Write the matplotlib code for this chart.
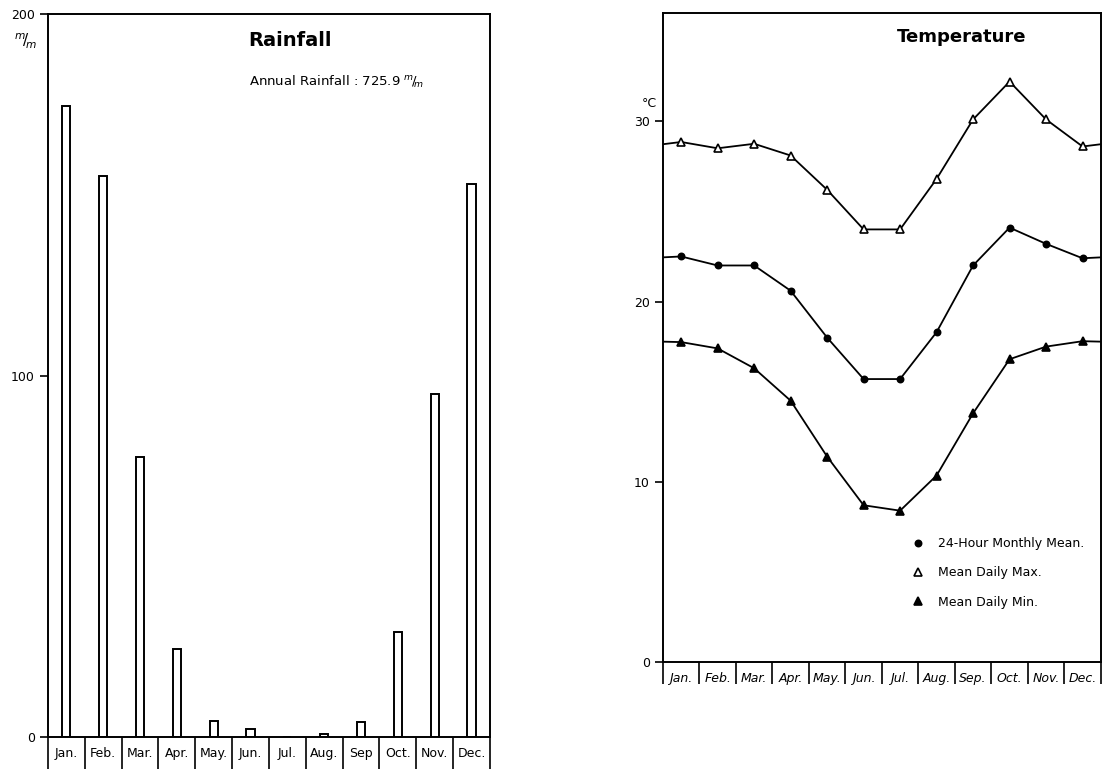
import numpy as np
import matplotlib.pyplot as plt

months = ["Jan.", "Feb.", "Mar.", "Apr.", "May.", "Jun.", "Jul.", "Aug.", "Sep", "Oct.", "Nov.", "Dec."]
months_t = ["Jan.", "Feb.", "Mar.", "Apr.", "May.", "Jun.", "Jul.", "Aug.", "Sep.", "Oct.", "Nov.", "Dec."]

# rainfall (mm)
rain = [174.6, 155.2, 77.5, 24.3, 4.4, 2.2, 0.0, 0.8, 4.1, 29.0, 94.9, 153.0]

# temperature (C)
t_mean = [22.5, 22.0, 22.0, 20.6, 18.0, 15.7, 15.7, 18.3, 22.0, 24.1, 23.2, 22.4]
t_max = [28.85, 28.5, 28.75, 28.1, 26.2, 24.0, 24.0, 26.8, 30.1, 32.2, 30.1, 28.6]
t_min = [17.75, 17.4, 16.3, 14.5, 11.4, 8.7, 8.4, 10.35, 13.8, 16.8, 17.5, 17.8]

plt.rcParams['font.family'] = ['DejaVu Sans']

fig = plt.figure(figsize=(11.03, 7.69), dpi=100)
x = np.arange(12)

def month_axis(ax, labels, ticklen, pad, style='normal'):
    ax.set_xlim(-0.5, 11.5)
    ax.set_xticks(np.arange(13) - 0.5)
    ax.set_xticklabels([])
    ax.set_xticks(x, minor=True)
    ax.set_xticklabels(labels, minor=True, fontsize=9, style=style)
    ax.tick_params(axis='x', which='major', direction='out', length=ticklen, width=1.2)
    ax.tick_params(axis='x', which='minor', length=0, pad=pad)
    for s in ax.spines.values():
        s.set_linewidth(1.4)

# ---- rainfall
ax1 = fig.add_axes([0.0435, 0.0416, 0.4007, 0.9402])
ax1.bar(x, rain, width=0.22, facecolor='white', edgecolor='black', linewidth=1.4)
ax1.set_ylim(0, 200)
ax1.set_yticks([0, 100, 200])
ax1.set_yticklabels(['0', '100', '200'], fontsize=9)
ax1.tick_params(axis='y', direction='out', length=6, width=1.2)
month_axis(ax1, months, 23, 7)
ax1.text(-0.05, 0.955, r'$^{m}\!/\!_{m}$', transform=ax1.transAxes, fontsize=11, ha='center')
ax1.text(0.548, 0.964, 'Rainfall', transform=ax1.transAxes, fontsize=14, fontweight='bold', ha='center', va='center')
ax1.text(0.455, 0.906, r'Annual Rainfall : 725.9 $^{m}\!/\!_{m}$', transform=ax1.transAxes, fontsize=9.5, ha='left', va='center')

# ---- temperature
ax2 = fig.add_axes([0.601, 0.139, 0.397, 0.844])
xe = np.concatenate(([-0.5], x, [11.5]))
for vals, mk, fc, lab in [(t_mean, 'o', 'black', '24-Hour Monthly Mean.'),
                          (t_max, '^', 'white', 'Mean Daily Max.'),
                          (t_min, '^', 'black', 'Mean Daily Min.')]:
    edge = (vals[0] + vals[-1]) / 2
    ye = np.concatenate(([edge], vals, [edge]))
    ax2.plot(xe, ye, color='black', linewidth=1.3)
    ax2.plot(x, vals, linestyle='none', marker=mk, markersize=6 if mk == '^' else 4.5,
             markerfacecolor=fc, markeredgecolor='black', markeredgewidth=1.2, label=lab)
ax2.set_ylim(0, 36)
ax2.set_yticks([0, 10, 20, 30])
ax2.set_yticklabels(['0', '10', '20', '30'], fontsize=9)
ax2.tick_params(axis='y', direction='out', length=6, width=1.2)
month_axis(ax2, months_t, 16, 7, style='italic')
ax2.text(-0.03, 0.85, '°C', transform=ax2.transAxes, fontsize=9, ha='center', va='bottom')
ax2.text(0.683, 0.963, 'Temperature', transform=ax2.transAxes, fontsize=13, fontweight='bold', ha='center', va='center')
ax2.legend(loc='upper left', bbox_to_anchor=(0.54, 0.21), frameon=False, fontsize=9,
           handlelength=1.2, handletextpad=1.0, labelspacing=1.3)

fig.savefig('out.png', dpi=100)
